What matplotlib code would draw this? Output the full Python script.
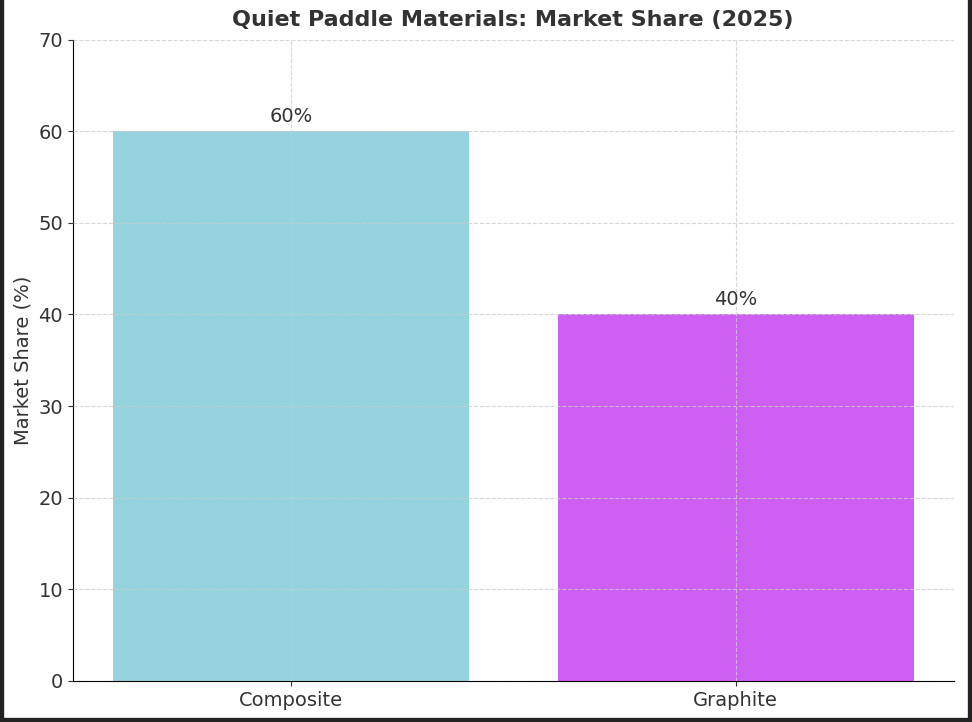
import matplotlib.pyplot as plt
from matplotlib.lines import Line2D

materials = ["Composite", "Graphite"]
shares = [60, 40]
colors = ["#95D4DE", "#CD5FF3"]

fig = plt.figure(figsize=(9.72, 7.22), dpi=100)
# dark screenshot frame on left, right and bottom
for xs, ys in [([0, 0], [0, 1]), ([1, 1], [0, 1]), ([0, 1], [0, 0])]:
    fig.add_artist(Line2D(xs, ys, transform=fig.transFigure, color="#222222", linewidth=6))
ax = fig.add_axes([0.075, 0.057, 0.906, 0.888])

bars = ax.bar(materials, shares, color=colors, width=0.8)
for b, v in zip(bars, shares):
    ax.text(b.get_x() + b.get_width() / 2, v + 0.6, f"{v}%", ha="center", va="bottom",
            fontsize=14, color="#333333")

ax.set_ylim(0, 70)
ax.set_ylabel("Market Share (%)", fontsize=14, color="#333333")
ax.set_title("Quiet Paddle Materials: Market Share (2025)", fontsize=16,
             fontweight="bold", color="#333333", pad=10)
ax.tick_params(labelsize=14, colors="#333333")
ax.grid(True, linestyle="--", color="#cccccc", alpha=0.8)
ax.set_axisbelow(False)
for s in ["top", "right"]:
    ax.spines[s].set_visible(False)

fig.savefig("out.png", dpi=100)
